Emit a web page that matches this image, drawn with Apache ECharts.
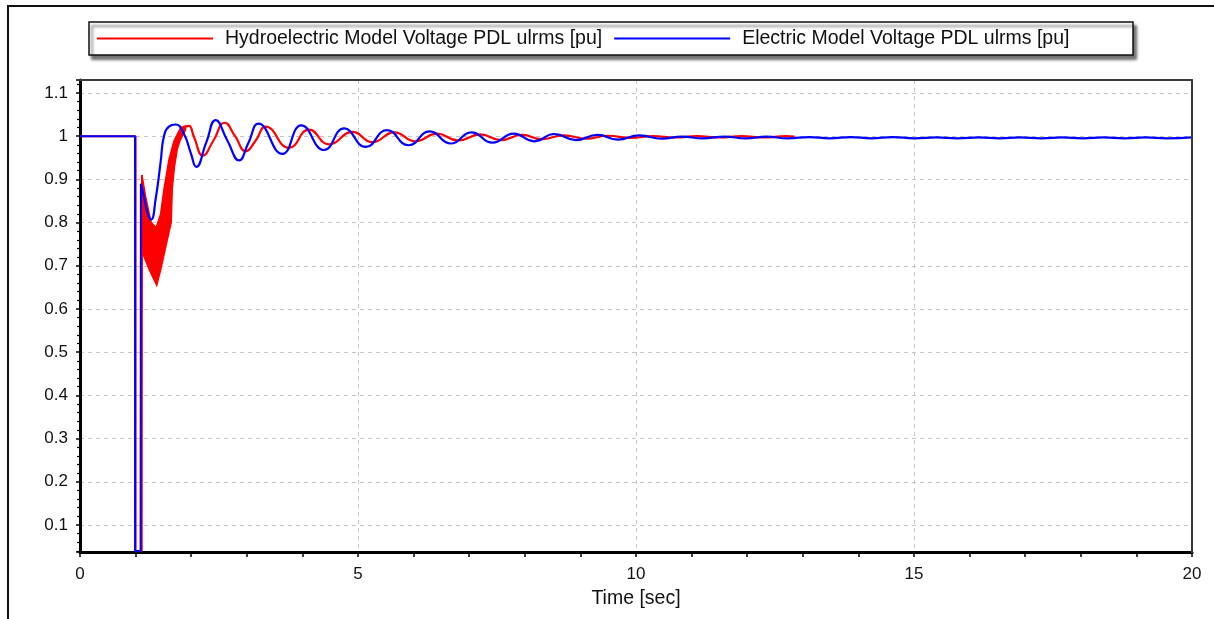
<!DOCTYPE html>
<html>
<head>
<meta charset="utf-8">
<script src="https://cdn.jsdelivr.net/npm/echarts@6/dist/echarts.min.js"></script>
<style>
html,body{margin:0;padding:0;background:#fff;}
#chart{width:1214px;height:619px;}
</style>
</head>
<body>
<div id="chart"></div>
<script>
// ---- data (time [s], voltage [pu]) ----
const redName = 'Hydroelectric Model Voltage PDL ulrms [pu]';
const blueName = 'Electric Model Voltage PDL ulrms [pu]';
const xTicks = [0, 5, 10, 15, 20];

const redStep = [[0,1],[1.0,1],[1.0,0.04],[1.11,0.04],[1.115,0.91]];
const redBandUpper = [[1.115,0.91],[1.18,0.86],[1.28,0.80],[1.37,0.788],[1.45,0.82],[1.51,0.877],[1.6,0.946],[1.69,0.989],[1.81,1.02],[1.9,1.024]];
const redBandLower = [[1.115,0.733],[1.25,0.69],[1.38,0.655],[1.45,0.69],[1.57,0.76],[1.64,0.80],[1.66,0.88],[1.7,0.93],[1.75,0.97],[1.8,0.99],[1.9,1.015]];
const redWave = [[1.9,1.022],[1.96,1.024],[2.05,0.998],[2.21,0.955],[2.4,0.99],[2.6,1.031],[2.79,1.0],[2.98,0.965],[3.16,0.99],[3.34,1.022],[3.76,0.973],[4.12,1.015],[4.48,0.981],[4.9,1.010],[5.26,0.986],[5.65,1.009],[6.04,0.988],[6.42,1.006],[6.8,0.990],[7.2,1.004],[7.57,0.991],[7.95,1.003],[8.3,0.993],[8.7,1.002],[9.1,0.994],[9.5,1.001],[9.9,0.996],[10.3,1.0],[10.7,0.997],[11.1,1.0],[11.5,0.997],[11.9,1.0],[12.3,0.997],[12.7,1.0],[12.85,0.999]];

const blueStep = [[0,1],[0.99,1],[0.99,0.04],[1.09,0.04],[1.095,0.89]];
const blueWave = [[1.095,0.89],[1.15,0.86],[1.22,0.82],[1.28,0.807],[1.36,0.854],[1.45,0.94],[1.51,1.0],[1.6,1.022],[1.72,1.027],[1.87,1.005],[1.99,0.962],[2.09,0.929],[2.27,0.985],[2.44,1.037],[2.65,0.99],[2.86,0.944],[3.03,0.985],[3.21,1.029],[3.64,0.959],[3.98,1.025],[4.39,0.968],[4.75,1.018],[5.14,0.975],[5.52,1.014],[5.91,0.979],[6.29,1.011],[6.67,0.983],[7.04,1.009],[7.42,0.985],[7.80,1.006],[8.17,0.988],[8.53,1.005],[8.92,0.991],[9.31,1.003],[9.67,0.992],[10.06,1.002],[10.46,0.994],[10.83,0.999],[11.2,0.995],[11.6,0.999],[11.97,0.995],[12.35,0.999],[12.73,0.995],[13.12,0.998],[13.48,0.995],[13.87,0.998],[14.23,0.995],[14.62,0.998],[15.01,0.995],[15.4,0.997],[15.79,0.995],[16.17,0.997],[16.54,0.995],[16.9,0.997],[17.29,0.995],[17.66,0.997],[18.04,0.995],[18.4,0.997],[18.79,0.995],[19.16,0.997],[19.54,0.995],[20,0.997]];

// ---- chart ----
const FONT = "'Liberation Sans', Arial, sans-serif";
const RED = '#ff0000', BLUE = '#0000ff';
const chart = echarts.init(document.getElementById('chart'), null, {renderer: 'canvas'});

const lineBase = (name, color, data, smooth, width) => ({
  type: 'line', name: name, data: data, smooth: smooth, showSymbol: false, symbol: 'none',
  lineStyle: {color: color, width: width}, itemStyle: {color: color},
  animation: false, clip: true
});

const borderAxis = (pos) => ({
  type: 'value', position: pos, z: 5, min: 0, max: 1,
  axisLine: {show: true, onZero: false, lineStyle: {color: '#3a3a3a', width: 2}},
  axisTick: {show: false}, axisLabel: {show: false}, splitLine: {show: false}
});

chart.setOption({
  animation: false,
  backgroundColor: '#ffffff',
  graphic: [
    {type: 'rect', z: -10, shape: {x: 8, y: 6, width: 1240, height: 700},
     style: {fill: '#ffffff', stroke: '#111111', lineWidth: 2}},
    {type: 'rect', z: 0, shape: {x: 89, y: 22, width: 1044, height: 33},
     style: {fill: '#ffffff', stroke: '#111111', lineWidth: 1.5,
             shadowBlur: 3, shadowOffsetX: 3, shadowOffsetY: 4, shadowColor: 'rgba(0,0,0,0.55)'}}
  ],
  legend: {
    z: 10,
    left: 97, top: 28.5, padding: 0,
    selectedMode: false,
    icon: 'rect', itemWidth: 116, itemHeight: 2, itemGap: 12,
    data: [{name: redName, itemStyle: {color: RED}}, {name: blueName, itemStyle: {color: BLUE}}],
    textStyle: {fontFamily: FONT, fontSize: 19.5, color: '#111', lineHeight: 20, padding: [0, 0, 0, 7]}
  },
  grid: {left: 80, right: 22, top: 80, bottom: 67, show: false},
  xAxis: [{
    type: 'value', min: xTicks[0], max: xTicks[xTicks.length - 1], interval: 5,
    name: 'Time [sec]', nameLocation: 'middle', nameGap: 37,
    nameTextStyle: {fontFamily: FONT, fontSize: 19.5, color: '#111'},
    axisLine: {show: true, onZero: false, lineStyle: {color: '#000', width: 3}},
    axisTick: {show: true, length: 5, lineStyle: {color: '#000', width: 1.5}},
    minorTick: {show: true, splitNumber: 5, length: 5, lineStyle: {color: '#000', width: 1.5}},
    axisLabel: {fontFamily: FONT, fontSize: 17, color: '#111', margin: 14},
    splitLine: {show: true, showMinLine: false, lineStyle: {color: '#c4c4c4', width: 1, type: [4, 4]}}
  }, borderAxis('top')],
  yAxis: [{
    type: 'value', min: 0.0375, max: 1.13, splitNumber: 11,
    axisLine: {show: true, onZero: false, lineStyle: {color: '#000', width: 3}},
    axisTick: {show: true, length: 4, lineStyle: {color: '#000', width: 1.5}},
    minorTick: {show: true, splitNumber: 5, length: 3, lineStyle: {color: '#000', width: 1.2}},
    axisLabel: {fontFamily: FONT, fontSize: 17, color: '#111', margin: 12, showMinLabel: false, showMaxLabel: false},
    splitLine: {show: true, showMinLine: false, showMaxLine: false, lineStyle: {color: '#c4c4c4', width: 1, type: [4, 4]}}
  }, borderAxis('right')],
  series: [
    lineBase(redName, RED, redStep, false, 2),
    {
      type: 'custom', name: redName, coordinateSystem: 'cartesian2d',
      data: redBandUpper, encode: {x: 0, y: 1}, animation: false, itemStyle: {color: RED},
      renderItem: function (params, api) {
        if (params.dataIndex !== 0) return null;
        const pts = redBandUpper.map(p => api.coord(p))
          .concat(redBandLower.slice().reverse().map(p => api.coord(p)));
        return {type: 'polygon', shape: {points: pts}, style: {fill: RED, stroke: RED, lineWidth: 1.5}};
      }
    },
    lineBase(redName, RED, redWave, 0.5, 2.2),
    lineBase(blueName, BLUE, blueStep, false, 2),
    lineBase(blueName, BLUE, blueWave, 0.5, 2.2)
  ]
});
</script>
</body>
</html>
